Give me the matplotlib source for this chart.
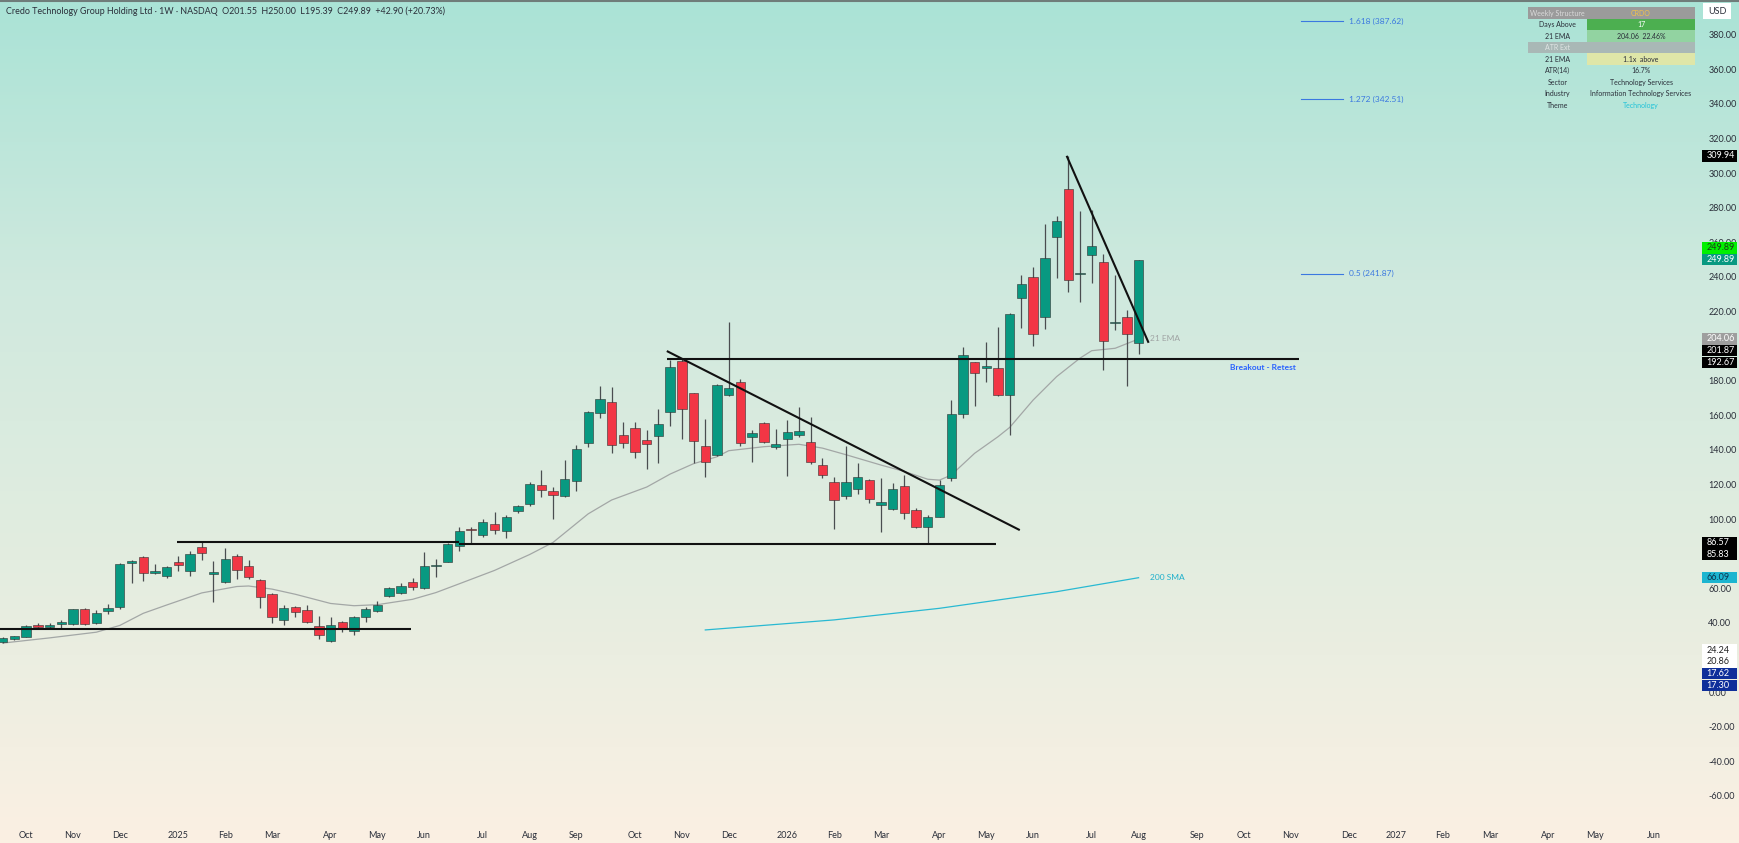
import numpy as np
import pandas as pd
import matplotlib
matplotlib.use('Agg')
import matplotlib.pyplot as plt
import matplotlib.dates as mdates
from matplotlib.patches import Rectangle
from matplotlib.colors import LinearSegmentedColormap
from matplotlib.transforms import blended_transform_factory

plt.rcParams['font.family'] = ['Lato', 'DejaVu Sans']

W, H = 1739, 843

# weekly candles, first bar on 2024-09-23
first_week = '2024-09-23'
opens = [29.1, 30.6, 32.0, 38.7, 37.4, 39.1, 39.5, 48.0, 40.1, 46.6,
         48.9, 74.4, 77.8, 69.0, 67.2, 75.1, 69.7, 83.6, 68.2, 63.6,
         78.8, 72.6, 64.5, 56.6, 41.6, 48.9, 47.2, 38.2, 29.7, 40.5,
         35.3, 43.5, 47.0, 55.3, 57.0, 63.6, 60.1, 73.0, 75.4, 84.4,
         94.2, 90.9, 96.9, 93.3, 104.4, 108.9, 119.7, 116.4, 113.5, 121.8,
         144.1, 161.5, 167.6, 148.4, 152.4, 145.7, 148.2, 162.0, 191.3, 172.6,
         142.2, 136.8, 171.9, 179.4, 147.2, 155.7, 141.4, 146.1, 148.4, 144.7,
         131.0, 121.6, 113.3, 117.5, 122.3, 107.9, 106.0, 119.1, 105.2, 95.2,
         101.4, 123.5, 160.7, 190.6, 187.5, 187.5, 171.7, 227.9, 240.1, 217.0,
         262.8, 290.8, 241.5, 252.4, 248.6, 213.3, 216.8, 201.55]
highs = [31.8, 32.6, 38.6, 40.1, 40.0, 41.6, 48.2, 48.3, 47.4, 50.9,
         74.8, 76.3, 78.6, 73.8, 72.6, 78.6, 81.5, 86.57, 75.9, 83.0,
         79.8, 76.3, 65.2, 57.4, 50.3, 49.7, 50.3, 44.1, 43.5, 41.2,
         43.8, 48.9, 52.8, 60.5, 63.2, 65.9, 80.7, 76.9, 86.0, 95.6,
         95.6, 100.0, 103.9, 102.3, 108.1, 121.4, 128.3, 118.7, 134.1, 142.6,
         162.4, 176.9, 176.1, 156.3, 156.3, 151.4, 163.4, 191.9, 192.5, 173.0,
         157.6, 178.0, 213.7, 180.7, 151.4, 156.3, 152.0, 157.2, 164.9, 158.8,
         135.1, 124.1, 142.2, 132.2, 123.0, 123.5, 120.6, 125.4, 106.2, 102.3,
         122.5, 168.8, 199.6, 191.0, 202.1, 211.0, 219.0, 240.8, 245.9, 270.5,
         275.1, 309.94, 278.2, 278.6, 253.0, 241.2, 220.8, 250.00]
lows = [28.6, 30.2, 31.6, 36.8, 36.8, 36.8, 39.0, 38.9, 39.6, 44.9,
        47.8, 63.2, 64.4, 68.0, 65.7, 70.1, 67.2, 76.3, 51.8, 62.8,
        65.1, 65.1, 48.7, 39.7, 38.7, 43.5, 39.7, 30.6, 29.1, 34.9,
        32.9, 40.7, 46.5, 54.8, 56.6, 59.0, 59.5, 66.7, 75.0, 81.7,
        85.5, 89.4, 91.1, 88.8, 103.3, 107.7, 112.5, 100.0, 112.9, 116.4,
        141.8, 158.2, 138.3, 140.8, 135.1, 129.1, 132.6, 153.9, 146.4, 132.4,
        124.1, 136.3, 171.2, 142.4, 132.9, 144.0, 140.3, 124.9, 147.6, 131.6,
        123.5, 94.0, 111.4, 114.5, 109.0, 92.7, 105.2, 99.8, 94.6, 85.83,
        101.0, 122.0, 158.5, 165.3, 179.4, 171.0, 148.6, 210.2, 200.2, 209.6,
        239.1, 231.4, 225.6, 236.2, 186.1, 209.2, 177.1, 195.39]
closes = [31.4, 32.2, 38.2, 37.4, 38.7, 40.3, 47.8, 39.3, 45.5, 48.7,
          74.0, 75.7, 68.6, 69.3, 72.1, 73.4, 79.8, 80.2, 69.6, 77.1,
          70.5, 66.5, 54.7, 43.5, 48.7, 46.2, 40.3, 33.1, 38.5, 36.2,
          43.4, 48.0, 50.3, 59.9, 61.3, 60.5, 72.6, 73.4, 85.5, 93.3,
          93.4, 98.3, 93.4, 101.0, 107.3, 120.4, 116.6, 113.7, 122.9, 140.7,
          161.7, 169.6, 142.8, 143.7, 138.9, 143.4, 155.1, 187.7, 163.4, 145.3,
          133.1, 177.5, 175.9, 143.7, 149.9, 144.7, 143.4, 150.1, 150.9, 132.8,
          125.2, 111.0, 121.4, 124.1, 111.8, 109.8, 117.5, 103.3, 95.2, 101.4,
          119.5, 160.7, 194.8, 184.2, 188.1, 171.7, 218.5, 235.8, 207.1, 250.9,
          272.1, 238.2, 241.9, 257.8, 202.9, 213.7, 206.99, 249.89]

# 21 EMA (week number, value)
ema_weeks = [1, 5, 9, 11, 13, 15, 18, 21, 22, 24, 26, 29, 31, 33, 36, 38, 40, 43, 46, 48,
             51, 53, 56, 58, 60, 62, 63, 66, 69, 71, 73, 76, 78, 80, 81, 82, 84, 86, 87, 89,
             91, 93, 94, 96, 98]
ema_vals = [28.3, 31.3, 34.6, 38.5, 45.5, 50.3, 57.3, 61.0, 61.3, 59.5, 56.5, 51.2, 49.9, 50.5,
            53.6, 57.5, 62.6, 70.3, 79.5, 86.5, 103.0, 111.0, 118.5, 126.0, 132.0, 136.0, 139.5,
            141.8, 143.2, 141.0, 137.2, 131.2, 127.5, 123.0, 122.5, 125.4, 138.0, 147.6, 153.0,
            168.8, 182.3, 193.0, 197.3, 198.7, 204.06]

# 200 SMA
sma_weeks = [61, 72, 81, 91, 98]
sma_vals = [35.9, 41.7, 48.4, 58.0, 66.09]

# drawn lines: (start date, start price, end date, end price)
trend_lines = [
    ('2024-09-21', 36.4, '2025-05-25', 36.4),
    ('2025-01-05', 86.57, '2025-06-23', 86.57),
    ('2025-06-23', 85.83, '2026-05-10', 85.83),
    ('2025-10-25', 197.1, '2026-05-24', 93.6),
    ('2025-10-25', 192.67, '2026-11-07', 192.67),
    ('2026-06-21', 309.94, '2026-08-09', 201.87),
]

fib_names = ['1.618', '1.272', '0.5']
fib_prices = [387.62, 342.51, 241.87]

# right scale badges: value, face, text colour
badges = [
    (309.94, '#000000', 'white'),
    (249.89, '#089981', 'white'),
    (204.06, '#9e9e9e', 'white'),
    (201.87, '#000000', 'white'),
    (192.67, '#000000', 'white'),
    (86.57, '#000000', 'white'),
    (85.83, '#000000', 'white'),
    (66.09, '#1cb5d0', '#0c3550'),
    (24.24, '#ffffff', '#222222'),
    (20.86, '#ffffff', '#222222'),
    (17.62, '#0f2f9a', 'white'),
    (17.30, '#0f2f9a', 'white'),
]

table_rows = [('Weekly Structure', 'CRDO'), ('Days Above', '17'),
              ('21 EMA', '204.06  22.46%'), ('ATR Ext', ''),
              ('21 EMA', '1.1x  above'), ('ATR(14)', '16.7%'),
              ('Sector', 'Technology Services'),
              ('Industry', 'Information Technology Services'),
              ('Theme', 'Technology')]

GREEN = '#089981'
RED = '#f23645'
WICK = '#4a4d50'
TXT = '#2a2e39'

fig = plt.figure(figsize=(W / 100, H / 100), dpi=100)

# background gradient
bg = fig.add_axes([0, 0, 1, 1], zorder=-10)
cmap = LinearSegmentedColormap.from_list('bg', ['#aae3d6', '#cfe9de', '#e3ede0', '#fbf0e3'])
bg.imshow(np.linspace(0, 1, 256).reshape(-1, 1), aspect='auto', cmap=cmap,
          extent=[0, 1, 0, 1], origin='upper')
bg.set_axis_off()
bg.plot([0, 1], [0.999, 0.999], color='#6f7d7a', lw=1.5, transform=bg.transAxes)

ax = fig.add_axes([0, 25 / H, 1700 / W, 818 / H])
ax.patch.set_alpha(0)
for s in ax.spines.values():
    s.set_visible(False)

dates = pd.date_range(first_week, periods=len(opens), freq='W-MON')
x = mdates.date2num(dates)
o, h, l, c = map(np.array, (opens, highs, lows, closes))

px_day = 11.71 / 7
x0 = x[0] - 2.7 / px_day
ax.set_xlim(x0, x0 + 1700 / px_day)
ax.set_ylim(-72.8, 400)

# candles
up = c >= o
cols = np.where(up, GREEN, RED)
ax.vlines(x, l, h, color=WICK, lw=0.9, zorder=3)
ax.bar(x, np.maximum(np.abs(c - o), 0.7), bottom=np.minimum(o, c), width=5.6,
       color=cols, edgecolor='#303030', linewidth=0.4, zorder=4)

# moving averages
ema_x = x[0] + (np.array(ema_weeks) - 1) * 7
ax.plot(ema_x, ema_vals, color='#a3a7a6', lw=0.9, zorder=2)
sma_x = x[0] + (np.array(sma_weeks) - 1) * 7
ax.plot(sma_x, sma_vals, color='#29b9d2', lw=0.9, zorder=2)
ax.text(x[-1] + 7, ema_vals[-1], '21 EMA', color='#a0a4a4', fontsize=6, va='center')
ax.text(x[-1] + 7, sma_vals[-1], '200 SMA', color='#1fb0cc', fontsize=6, va='center')

# trend lines
for d1, p1, d2, p2 in trend_lines:
    ax.plot(mdates.datestr2num([d1, d2]), [p1, p2], color='#111111', lw=1.5, zorder=5,
            solid_capstyle='butt')
ax.text(mdates.datestr2num('2026-11-05'), 189.5, 'Breakout - Retest', color='#2962ff',
        fontsize=6, fontweight='bold', ha='right', va='top')

# fib levels
fx0, fx1, ftx = mdates.datestr2num(['2026-11-08', '2026-12-03', '2026-12-07'])
for name, p in zip(fib_names, fib_prices):
    ax.plot([fx0, fx1], [p, p], color='#3b78e0', lw=0.8)
    ax.text(ftx, p, f'{name} ({p:.2f})', color='#3b78e0', fontsize=6, va='center')

# date axis
months = pd.date_range('2024-10-01', '2027-06-01', freq='MS')
ticks, labels = [], []
for m in months:
    d = m + pd.Timedelta(days=(7 - m.weekday()) % 7)
    ticks.append(mdates.date2num(d))
    labels.append(str(m.year) if m.month == 1 else m.strftime('%b'))
ax.set_xticks(ticks)
ax.set_xticklabels(labels)
ax.tick_params(axis='x', length=0, pad=9, labelsize=6.5, labelcolor=TXT)

# price axis (levels hidden under the badges get no text)
ax.yaxis.tick_right()
yt = np.arange(-60, 381, 20)
hidden = {200, 80, 20}
ax.set_yticks(yt)
ax.set_yticklabels(['' if v in hidden else f'{v:.2f}' for v in yt])
ax.tick_params(axis='y', length=0, pad=6, labelsize=6.5, labelcolor=TXT)

# price badges on the scale
tr = blended_transform_factory(ax.transAxes, ax.transData)
gap = 6.8
box_h = 6.6
prev = 1e9
for val, face, tc in badges:
    pos = min(val, prev - gap)
    prev = pos
    ax.add_patch(Rectangle((1702 / 1700, pos - box_h / 2), 35 / 1700, box_h, transform=tr,
                           facecolor=face, edgecolor='none', clip_on=False, zorder=10))
    ax.text(1706.5 / 1700, pos, f'{val:.2f}', transform=tr, color=tc, fontsize=6.5,
            va='center', ha='left', zorder=11, clip_on=False)
# second last price badge above
pos = 249.89 + gap
ax.add_patch(Rectangle((1702 / 1700, pos - box_h / 2), 35 / 1700, box_h, transform=tr,
                       facecolor='#00f000', edgecolor='none', clip_on=False, zorder=10))
ax.text(1706.5 / 1700, pos, '249.89', transform=tr, color='#1a3a1a', fontsize=6.5,
        va='center', ha='left', zorder=11, clip_on=False)


def fpx(px, py):
    return px / W, 1 - py / H


# USD box
fig.patches.append(Rectangle(fpx(1703, 19), 28 / W, 16 / H, transform=fig.transFigure,
                             facecolor='white', edgecolor='none'))
fig.text(*fpx(1717, 11), 'USD', fontsize=6.5, color=TXT, ha='center', va='center')

# title
fig.text(*fpx(6, 11), 'Credo Technology Group Holding Ltd · 1W · NASDAQ  O201.55  H250.00  '
         'L195.39  C249.89  +42.90 (+20.73%)', fontsize=6.4, color=TXT, va='center')

# info table
left_bg = ['#9b9b9b', None, None, '#a9b8b6', None, None, None, None, None]
right_bg = ['#9b9b9b', '#4caf50', '#92d3a1', '#a9b8b6', '#dfe6a8', None, None, None, None]
left_tc = ['#dadada', TXT, TXT, '#dfe5e4', TXT, TXT, TXT, TXT, TXT]
right_tc = ['#f2c24a', 'white', TXT, TXT, TXT, TXT, TXT, TXT, '#22c3d8']
cx0, cx1, cx2 = 1528, 1587, 1695
ty, rh = 7.3, 11.5
for i, (a, b) in enumerate(table_rows):
    top = ty + i * rh
    if left_bg[i]:
        fig.patches.append(Rectangle(fpx(cx0, top + rh), (cx1 - cx0) / W, rh / H,
                                     transform=fig.transFigure, facecolor=left_bg[i],
                                     edgecolor='none'))
    if right_bg[i]:
        fig.patches.append(Rectangle(fpx(cx1, top + rh), (cx2 - cx1) / W, rh / H,
                                     transform=fig.transFigure, facecolor=right_bg[i],
                                     edgecolor='none'))
    fig.text(*fpx((cx0 + cx1) / 2, top + rh / 2), a, fontsize=5, color=left_tc[i],
             ha='center', va='center')
    fig.text(*fpx((cx1 + cx2) / 2, top + rh / 2), b, fontsize=5, color=right_tc[i],
             ha='center', va='center')

fig.savefig('out.png', dpi=100)
